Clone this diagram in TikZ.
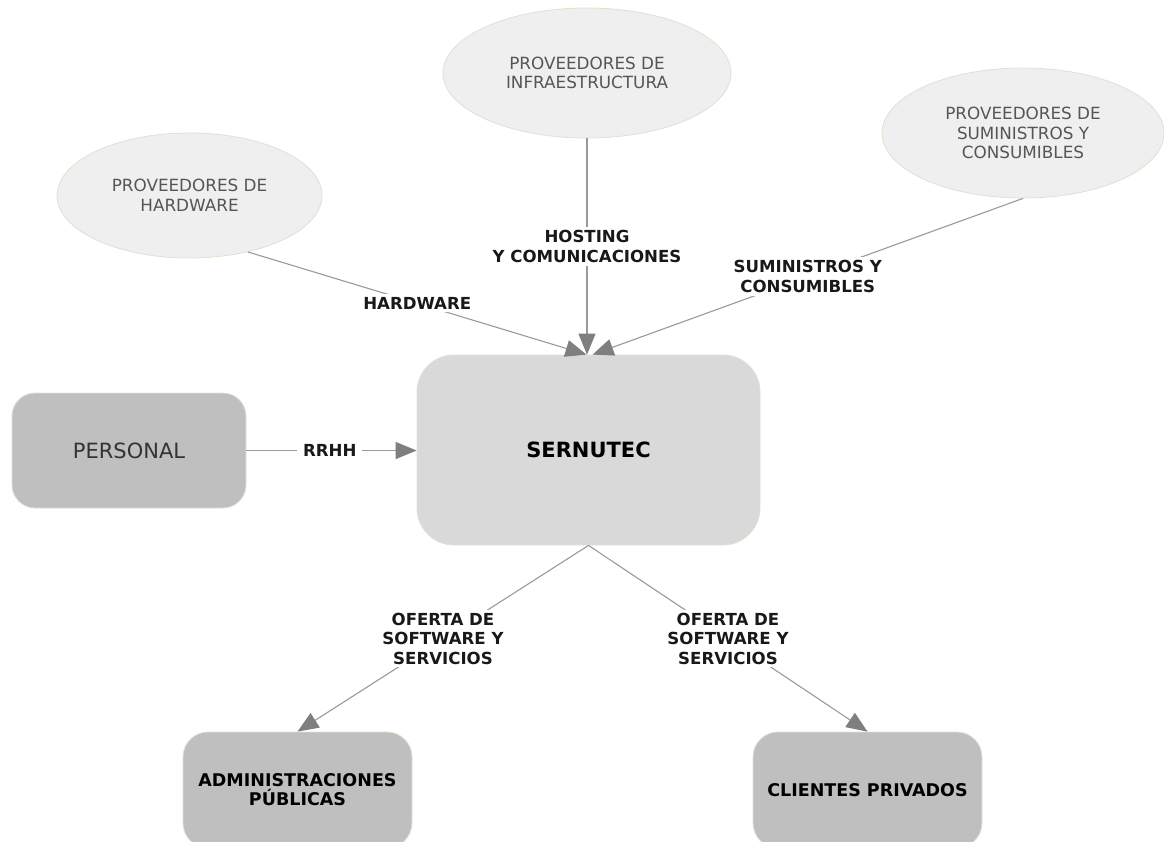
\documentclass[tikz,border=0pt]{standalone}
\usepackage{fontspec}
\setmainfont{DejaVu Sans}
\usetikzlibrary{arrows.meta,shapes.geometric}
\definecolor{ellfill}{HTML}{EFEFEF}
\definecolor{edgec}{HTML}{DDE3CF}
\definecolor{boxdark}{HTML}{BFBFBF}
\definecolor{boxlight}{HTML}{D9D9D9}
\definecolor{linegray}{HTML}{9A9A9A}
\definecolor{tipgray}{HTML}{7F7F7F}
\definecolor{elltext}{HTML}{555555}
\begin{document}
\begin{tikzpicture}[x=1pt,y=-1pt,
  prov/.style={ellipse, fill=ellfill, draw=edgec, line width=0.8pt, inner sep=0pt, align=center, text=elltext, font=\fontsize{16.8}{19.5}\selectfont},
  rbox/.style={rectangle, draw=edgec, line width=0.8pt, inner sep=0pt, align=center},
  conn/.style={draw=linegray, line width=1.1pt, -{Triangle[length=21pt,width=17pt,color=tipgray]}},
  lbl/.style={fill=white, inner xsep=6pt, inner ysep=3pt, align=center, text=black!90, font=\bfseries\fontsize{16.6}{19.5}\selectfont}
]
\clip (0,0) rectangle (1164,841);
\fill[white] (0,0) rectangle (1164,841);

\node[prov, minimum width=265pt, minimum height=125pt] (hw) at (189.5,195.5) {PROVEEDORES DE\\HARDWARE};
\node[prov, minimum width=288pt, minimum height=130pt] (inf) at (587,73) {PROVEEDORES DE\\INFRAESTRUCTURA};
\node[prov, minimum width=282pt, minimum height=130pt] (sum) at (1023,133) {PROVEEDORES DE\\SUMINISTROS Y\\CONSUMIBLES};

\node[rbox, fill=boxlight, rounded corners=37pt, minimum width=343pt, minimum height=190pt, font=\bfseries\fontsize{21}{25}\selectfont] (sern) at (588.5,450) {SERNUTEC};
\node[rbox, fill=boxdark, rounded corners=23pt, minimum width=234pt, minimum height=115pt, text=black!80, font=\fontsize{21}{25}\selectfont] (pers) at (129,450.5) {PERSONAL};
\node[rbox, fill=boxdark, rounded corners=25pt, minimum width=229pt, minimum height=116pt, font=\bfseries\fontsize{17.5}{19}\selectfont] (adm) at (297.5,790) {ADMINISTRACIONES\\PÚBLICAS};
\node[rbox, fill=boxdark, rounded corners=25pt, minimum width=229pt, minimum height=116pt, font=\bfseries\fontsize{17.5}{19}\selectfont] (cli) at (867.5,790) {CLIENTES PRIVADOS};

\draw[conn] (hw.-44) -- ([xshift=-2pt]sern.north) node[lbl,pos=0.5]{HARDWARE};
\draw[conn] (inf.south) -- (inf.south |- sern.north) node[lbl,pos=0.5]{HOSTING\\Y COMUNICACIONES};
\draw[conn] (sum.south) -- ([xshift=4pt]sern.north) node[lbl,pos=0.5]{SUMINISTROS Y\\CONSUMIBLES};
\draw[conn] (pers.east) -- (pers.east -| sern.west) node[lbl,pos=0.49]{RRHH};
\draw[conn] (sern.south) -- (adm.north) node[lbl,pos=0.5]{OFERTA DE\\SOFTWARE Y\\SERVICIOS};
\draw[conn] (sern.south) -- (cli.north) node[lbl,pos=0.5]{OFERTA DE\\SOFTWARE Y\\SERVICIOS};
\end{tikzpicture}
\end{document}
